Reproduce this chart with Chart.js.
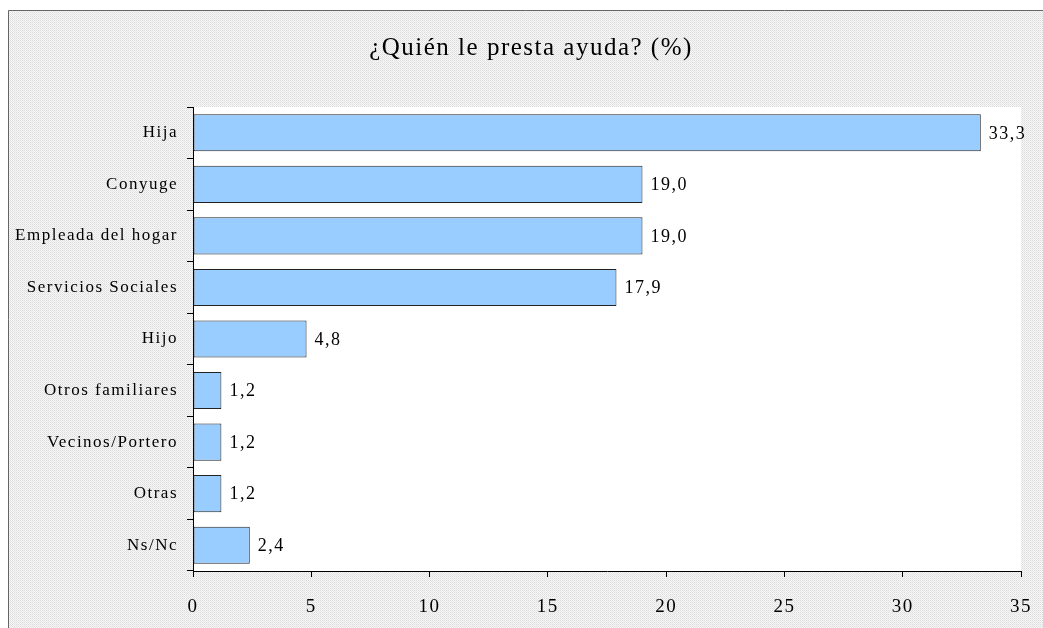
<!DOCTYPE html>
<html><head><meta charset="utf-8">
<script src="https://cdn.jsdelivr.net/npm/chart.js@4/dist/chart.umd.min.js"></script>
<style>html,body{margin:0;padding:0;background:#fff}#wrap{width:1043px;height:628px}</style>
</head><body><div id="wrap"><canvas id="c" width="1043" height="628"></canvas></div>
<script>
const categories = ["Hija","Conyuge","Empleada del hogar","Servicios Sociales","Hijo","Otros familiares","Vecinos/Portero","Otras","Ns/Nc"];
const values = [33.3, 19.0, 19.0, 17.9, 4.8, 1.2, 1.2, 1.2, 2.4];
const titleText = "¿Quién le presta ayuda? (%)";
const xMin = 0, xMax = 35, xStep = 5;
const SERIF = '"Liberation Serif", "Times New Roman", serif';
const SPACING = '1.5px';

function makePattern(ctx){
  const p = document.createElement('canvas'); p.width = 2; p.height = 2;
  const g = p.getContext('2d');
  g.fillStyle = '#f6f6f6'; g.fillRect(0,0,2,2);
  g.fillStyle = '#dddddd'; g.fillRect(0,0,1,1);
  g.fillStyle = '#e8e8e8'; g.fillRect(1,1,1,1);
  return ctx.createPattern(p,'repeat');
}

const spacingPlugin = {
  id:'spacing',
  beforeLayout(chart){ chart.ctx.letterSpacing = SPACING; },
  afterLayout(chart){ if (chart.titleBlock) { chart.titleBlock.left = 41; } },
  beforeDraw(chart){ chart.ctx.letterSpacing = SPACING; }
};

const bgPlugin = {
  id:'bg',
  beforeDraw(chart){
    const ctx = chart.ctx, a = chart.chartArea;
    ctx.save();
    ctx.fillStyle = '#fff'; ctx.fillRect(0,0,chart.width,chart.height);
    ctx.fillStyle = makePattern(ctx);
    ctx.fillRect(9,11,chart.width-9,chart.height-11);
    ctx.strokeStyle = '#666'; ctx.lineWidth = 1;
    ctx.beginPath(); ctx.moveTo(8.5,chart.height); ctx.lineTo(8.5,10.5); ctx.lineTo(chart.width,10.5); ctx.stroke();
    ctx.fillStyle = '#fff';
    ctx.fillRect(a.left, a.top, a.right-a.left, a.bottom-a.top);
    ctx.restore();
  }
};

const labelPlugin = {
  id:'vals',
  afterDatasetsDraw(chart){
    const ctx = chart.ctx;
    const meta = chart.getDatasetMeta(0);
    ctx.save();
    ctx.letterSpacing = SPACING;
    ctx.font = '18px ' + SERIF;
    ctx.fillStyle = '#000';
    ctx.textBaseline = 'middle';
    ctx.textAlign = 'left';
    meta.data.forEach((bar,i)=>{
      const t = values[i].toFixed(1).replace('.',',');
      ctx.fillText(t, bar.x + 8, bar.y + 1);
    });
    ctx.restore();
  }
};

new Chart(document.getElementById('c'), {
  type:'bar',
  data:{ labels: categories, datasets:[{ data: values, backgroundColor:'#99CCFF', borderColor:'#222', borderWidth:1, borderSkipped:false, barPercentage:0.72, categoryPercentage:1.0 }]},
  options:{
    indexAxis:'y', responsive:false, animation:false,
    layout:{ padding:{ top:10, left:9, right:22, bottom:0 } },
    plugins:{
      legend:{display:false}, tooltip:{enabled:false},
      title:{ display:true, text:titleText, color:'#000', font:{ family:SERIF, size:25, weight:'normal', lineHeight:1.2 }, padding:{ top:23, bottom:44 } }
    },
    scales:{
      x:{ min:xMin, max:xMax,
        ticks:{ stepSize:xStep, color:'#000', font:{ family:SERIF, size:19 }, padding:19, maxRotation:0 },
        grid:{ drawOnChartArea:false, drawTicks:true, tickLength:6, color:'#000' },
        border:{ color:'#000', width:1 },
        afterFit(s){ s.height = 57; s.paddingLeft = 0; s.paddingRight = 0; } },
      y:{
        ticks:{ color:'#000', font:{ family:SERIF, size:17 }, padding:9 },
        grid:{ offset:true, drawOnChartArea:false, drawTicks:true, tickLength:6, color:'#000' },
        border:{ color:'#000', width:1 },
        afterFit(s){ s.width = 184; s.paddingTop = 0; s.paddingBottom = 0; } }
    }
  },
  plugins:[spacingPlugin, bgPlugin, labelPlugin]
});
</script></body></html>
